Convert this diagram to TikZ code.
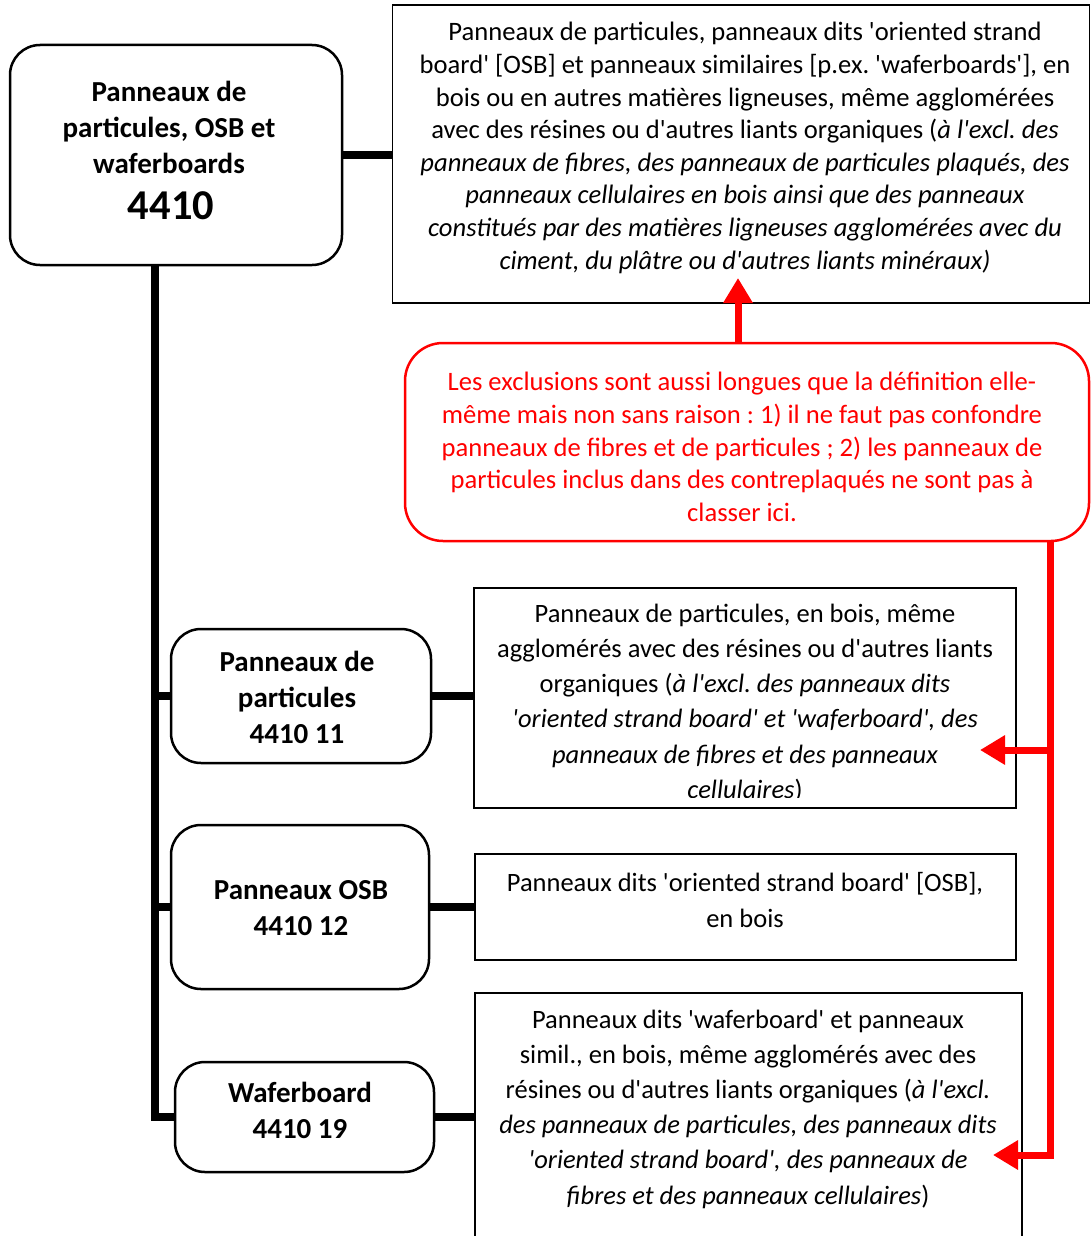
\documentclass[tikz,border=0pt]{standalone}
\usepackage{fontspec}
\newfontfamily\calibri{Carlito}
\usetikzlibrary{arrows.meta}
\frenchspacing
\begin{document}
\frenchspacing
\begin{tikzpicture}[x=1pt,y=-1pt,
  rbox/.style={draw, line width=2.5pt, rounded corners=30pt, inner sep=0pt},
  dbox/.style={draw, line width=1.8pt, inner sep=0pt},
  conn/.style={line width=8pt},
  redarr/.style={draw=red, line width=7pt, -{Triangle[length=25pt,width=28pt]}},
  ttxt/.style={align=center, inner sep=0pt, font=\frenchspacing\calibri\fontsize{26.6}{32.6}\selectfont},
  dtxt/.style={align=center, inner sep=0pt, font=\frenchspacing\calibri\fontsize{26.5}{35.2}\selectfont},
  btxt/.style={align=center, inner sep=0pt, font=\calibri\bfseries\fontsize{29}{36}\selectfont}]
\useasboundingbox (0,0) rectangle (1091,1236);
% boxes
\node[rbox, minimum width=332pt, minimum height=220pt] (root) at (176,155) {};
\node[dbox, minimum width=697pt, minimum height=298pt] (top) at (741,154) {};
\node[rbox, draw=red, rounded corners=38pt, minimum width=684pt, minimum height=198pt] (note) at (747,442) {};
\node[rbox, minimum width=260pt, minimum height=134pt] (c1) at (301,696) {};
\node[rbox, minimum width=258pt, minimum height=164pt] (c2) at (300,907) {};
\node[rbox, minimum width=259pt, minimum height=110pt] (c3) at (304.5,1117) {};
\node[dbox, minimum width=542pt, minimum height=220pt] (d1) at (745,698) {};
\node[dbox, minimum width=541pt, minimum height=106pt] (d2) at (745.5,907) {};
\node[dbox, minimum width=547pt, minimum height=260pt] (d3) at (748.5,1123) {};
% texts
\node[btxt] (roott) at (169,127) {Panneaux de\\particules, OSB et\\waferboards};
\node[inner sep=0pt, font=\calibri\bfseries\fontsize{42.5}{44}\selectfont] (rootn) at (171,206) {4410};
\node[ttxt] (topt) at (745,148) {Panneaux de particules, panneaux dits 'oriented strand\\
board' [OSB] et panneaux similaires [p.ex. 'waferboards'], en\\
bois ou en autres matières ligneuses, même agglomérées\\
avec des résines ou d'autres liants organiques (\textit{à l'excl. des}\\
\textit{panneaux de fibres, des panneaux de particules plaqués, des}\\
\textit{panneaux cellulaires en bois ainsi que des panneaux}\\
\textit{constitués par des matières ligneuses agglomérées avec du}\\
\textit{ciment, du plâtre ou d'autres liants minéraux)}};
\node[ttxt, text=red] (notet) at (742,447) {Les exclusions sont aussi longues que la définition elle-\\
même mais non sans raison : 1) il ne faut pas confondre\\
panneaux de fibres et de particules ; 2) les panneaux de\\
particules inclus dans des contreplaqués ne sont pas à\\
classer ici.};
\node[btxt] (c1t) at (297,697) {Panneaux de\\particules\\4410 11};
\node[btxt] (c2t) at (301,908) {Panneaux OSB\\4410 12};
\node[btxt] (c3t) at (300,1110) {Waferboard\\4410 19};
\begin{scope}
\clip (d1.north west) rectangle ([yshift=11pt]d1.south east);
\node[dtxt] (d1t) at (745,703) {Panneaux de particules, en bois, même\\
agglomérés avec des résines ou d'autres liants\\
organiques (\textit{à l'excl. des panneaux dits}\\
\textit{'oriented strand board' et 'waferboard', des}\\
\textit{panneaux de fibres et des panneaux}\\
\textit{cellulaires})};
\end{scope}
\node[dtxt] (d2t) at (745,900) {Panneaux dits 'oriented strand board' [OSB],\\en bois};
\node[dtxt] (d3t) at (748,1109) {Panneaux dits 'waferboard' et panneaux\\
simil., en bois, même agglomérés avec des\\
résines ou d'autres liants organiques (\textit{à l'excl.}\\
\textit{des panneaux de particules, des panneaux dits}\\
\textit{'oriented strand board', des panneaux de}\\
\textit{fibres et des panneaux cellulaires})};
% black connectors
\coordinate (tx) at (155,0);
\draw[conn] (root.east) -- (root.east -| top.west);
\draw[conn] (root.south -| tx) -- (tx |- c3.west) -- (c3.west);
\draw[conn] ([xshift=-4pt]tx |- c1.west) -- (c1.west);
\draw[conn] ([xshift=-4pt]tx |- c2.west) -- (c2.west);
\draw[conn] (c1.east) -- (c1.east -| d1.west);
\draw[conn] (c2.east) -- (c2.east -| d2.west);
\draw[conn] (c3.east) -- (c3.east -| d3.west);
% red connectors
\coordinate (tip0) at (738,278);
\coordinate (rx) at (1050,0);
\coordinate (tip1) at (980,750);
\coordinate (tip3) at (993,1155);
\draw[redarr] (note.north -| tip0) -- (tip0);
\draw[redarr, line join=miter] (note.south -| rx) -- (rx |- tip3) -- (tip3);
\draw[redarr] (rx |- tip1) -- (tip1);
\end{tikzpicture}
\end{document}
